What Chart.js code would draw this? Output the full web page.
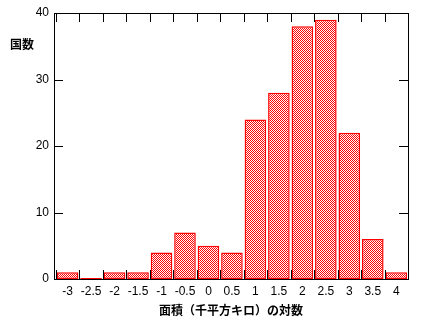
<!DOCTYPE html>
<html>
<head>
<meta charset="utf-8">
<script src="https://cdn.jsdelivr.net/npm/chart.js@4.4.0/dist/chart.umd.min.js"></script>
<style>
  html, body { margin: 0; padding: 0; background: #fff; }
  #wrap { width: 436px; height: 324px; }
</style>
</head>
<body>
<div id="wrap"><canvas id="hist"></canvas></div>
<script>
  // histogram data
  const binCenters = [-3, -2.5, -2, -1.5, -1, -0.5, 0, 0.5, 1, 1.5, 2, 2.5, 3, 3.5, 4];
  const counts = [1, 0, 1, 1, 4, 7, 5, 4, 24, 28, 38, 39, 22, 6, 1];
  const xTickValues = [-3, -2.5, -2, -1.5, -1, -0.5, 0, 0.5, 1, 1.5, 2, 2.5, 3, 3.5, 4];
  const yTickValues = [0, 10, 20, 30, 40];
  const xTitle = '面積（千平方キロ）の対数';
  const yTitle = '国数';
  const binHalf = 0.25;

  Chart.defaults.font.family = '"Liberation Sans", Arial, sans-serif';
  Chart.defaults.color = '#000';

  // checkerboard fill like the original
  function makePattern() {
    const c = document.createElement('canvas');
    c.width = 2; c.height = 2;
    const p = c.getContext('2d');
    p.fillStyle = '#fff';
    p.fillRect(0, 0, 2, 2);
    p.fillStyle = '#ff0000';
    p.fillRect(0, 0, 1, 1);
    p.fillRect(1, 1, 1, 1);
    return p.createPattern(c, 'repeat');
  }

  // inward tick marks on all four sides + the y label
  const innerTicks = {
    id: 'innerTicks',
    afterDraw(chart) {
      const ctx = chart.ctx;
      const area = chart.chartArea;
      const xs = chart.scales.x, ys = chart.scales.y;
      const len = 9;
      ctx.save();
      ctx.strokeStyle = '#000';
      ctx.lineWidth = 1;
      ctx.beginPath();
      const edges = binCenters.map(v => v - binHalf);
      edges.push(binCenters[binCenters.length - 1] + binHalf);
      edges.forEach(v => {
        const px = Math.round(xs.getPixelForValue(v)) + 0.5;
        ctx.moveTo(px, area.bottom);
        ctx.lineTo(px, area.bottom - len);
        ctx.moveTo(px, area.top);
        ctx.lineTo(px, area.top + len);
      });
      yTickValues.forEach(v => {
        const py = Math.round(ys.getPixelForValue(v)) + 0.5;
        ctx.moveTo(area.left, py);
        ctx.lineTo(area.left + len, py);
        ctx.moveTo(area.right, py);
        ctx.lineTo(area.right - len, py);
      });
      ctx.stroke();

      ctx.font = 'bold 12px "Noto Sans CJK JP"';
      ctx.fillStyle = '#000';
      ctx.textBaseline = 'middle';
      ctx.textAlign = 'left';
      ctx.fillText(yTitle, 10, 44);
      ctx.restore();
    }
  };

  const xMin = -3.29, xMax = 4.25;

  new Chart(document.getElementById('hist'), {
    type: 'bar',
    data: {
      datasets: [{
        data: binCenters.map((x, i) => ({ x: x, y: counts[i] })),
        backgroundColor: makePattern(),
        borderColor: '#ff0000',
        borderWidth: 1.5,
        borderSkipped: false,
        minBarLength: 1,
        barPercentage: 0.92,
        categoryPercentage: 1
      }]
    },
    options: {
      responsive: true,
      maintainAspectRatio: false,
      animation: false,
      layout: { padding: 0 },
      plugins: { legend: { display: false }, tooltip: { enabled: false } },
      scales: {
        x: {
          type: 'linear',
          position: 'bottom',
          offset: false,
          min: xMin,
          max: xMax,
          afterBuildTicks: s => { s.ticks = xTickValues.map(v => ({ value: v })); },
          afterFit: s => { s.height = 45; },
          ticks: {
            font: { size: 12 }, padding: 5,
            autoSkip: false, maxRotation: 0, minRotation: 0,
            callback: v => String(v)
          },
          grid: { display: false, drawTicks: false },
          border: { display: true, color: '#000', width: 1 },
          title: {
            display: true,
            text: xTitle,
            font: { size: 12, weight: 'bold', family: '"Noto Sans CJK JP"' },
            padding: { top: 0, bottom: 6 }
          }
        },
        x2: {
          type: 'linear',
          position: 'top',
          display: true,
          offset: false,
          min: xMin,
          max: xMax,
          afterFit: s => { s.height = 13; },
          ticks: { display: false },
          grid: { display: false, drawTicks: false },
          border: { display: true, color: '#000', width: 1 }
        },
        y: {
          min: 0,
          max: 40,
          afterBuildTicks: s => { s.ticks = yTickValues.map(v => ({ value: v })); },
          afterFit: s => { s.width = 54; },
          ticks: { font: { size: 12 }, padding: 5 },
          grid: { display: false, drawTicks: false },
          border: { display: true, color: '#000', width: 1 }
        },
        y2: {
          position: 'right',
          display: true,
          min: 0,
          max: 40,
          afterFit: s => { s.width = 28; },
          ticks: { display: false },
          grid: { display: false, drawTicks: false },
          border: { display: true, color: '#000', width: 1 }
        }
      }
    },
    plugins: [innerTicks]
  });
</script>
</body>
</html>
